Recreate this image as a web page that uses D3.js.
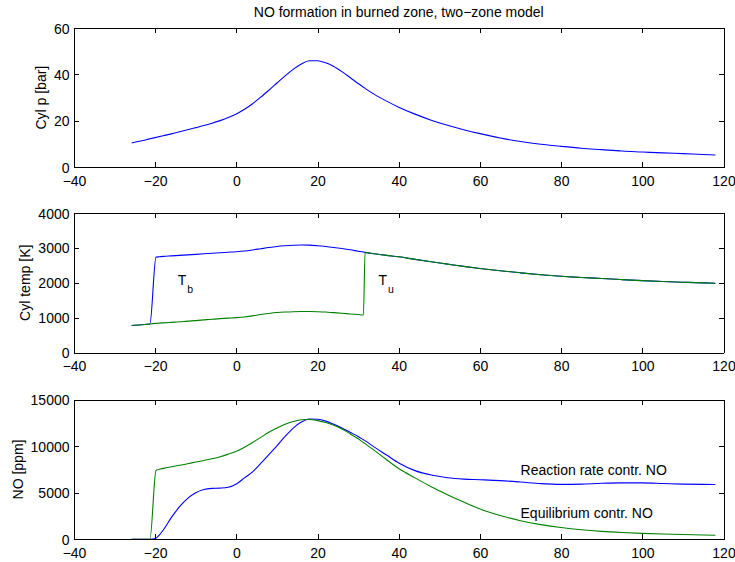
<!DOCTYPE html>
<html>
<head>
<meta charset="utf-8">
<script src="https://cdn.jsdelivr.net/npm/d3@7"></script>
<style>
  body { margin: 0; background: #fff; }
  svg { display: block; font-family: "Liberation Sans", Arial, Helvetica, sans-serif; }
</style>
</head>
<body>
<svg id="chart"></svg>
<script>
// crank angle [deg] shared by every series
const crankAngle = [-25.8, -24, -22, -21.3, -19.8, -19, -18, -16, -14, -12, -10, -8, -6, -4, -2, 0, 2, 4, 6, 8,
    10, 12, 14, 16, 18, 20, 22, 24, 26, 28, 30, 31.3, 31.7, 34, 37, 40, 44, 48, 52, 56,
    60, 65, 70, 75, 80, 85, 90, 95, 100, 105, 110, 115, 118];

const cylPressure = [10.5, 11.2, 12.0, 12.3, 12.9, 13.2, 13.6, 14.4, 15.3, 16.2, 17.1, 18.0, 19.0, 20.1, 21.4, 23.0, 25.0, 27.4, 30.2, 33.2,
    36.3, 39.4, 42.2, 44.5, 45.9, 45.9, 45.0, 43.4, 41.2, 38.7, 36.1, 34.5, 34.0, 31.4, 28.5, 25.9, 22.9, 20.3, 18.1, 16.2,
    14.5, 12.6, 11.1, 9.9, 9.0, 8.2, 7.6, 7.0, 6.6, 6.2, 5.9, 5.5, 5.3];

const tempBurned = [775, 790, 808, 818, 2735, 2745, 2755, 2770, 2785, 2800, 2815, 2830, 2845, 2860, 2875, 2890, 2910, 2940, 2975, 3010,
    3040, 3060, 3075, 3082, 3078, 3062, 3040, 3012, 2980, 2945, 2905, 2880, 2870, 2830, 2785, 2745, 2670, 2600, 2535, 2470,
    2410, 2345, 2285, 2230, 2185, 2150, 2120, 2090, 2060, 2035, 2015, 1995, 1985];

const tempUnburned = [775, 790, 808, 818, 835, 842, 850, 865, 880, 900, 915, 935, 955, 970, 985, 1000, 1020, 1050, 1090, 1120,
    1145, 1160, 1170, 1175, 1175, 1170, 1160, 1142, 1125, 1105, 1088, 1076, 2870, 2830, 2785, 2745, 2670, 2600, 2535, 2470,
    2410, 2345, 2285, 2230, 2185, 2150, 2120, 2090, 2060, 2035, 2015, 1995, 1985];

const noRateControlled = [0, 0, 0, 0, 120, 450, 1000, 2350, 3500, 4400, 5000, 5350, 5470, 5500, 5600, 5950, 6600, 7250, 8150, 9100,
    10050, 11050, 11950, 12600, 12930, 12900, 12700, 12350, 11950, 11500, 11050, 10700, 10600, 9900, 9050, 8200, 7380, 6900, 6620, 6470,
    6400, 6300, 6150, 5980, 5900, 5930, 6020, 6060, 6060, 6000, 5930, 5900, 5890];

const noEquilibrium = [0, 0, 0, 0, 7400, 7520, 7620, 7800, 7950, 8120, 8300, 8470, 8650, 8880, 9150, 9450, 9900, 10400, 10950, 11500,
    11950, 12350, 12650, 12850, 12880, 12750, 12550, 12250, 11850, 11350, 10800, 10400, 10280, 9550, 8550, 7600, 6600, 5650, 4800, 4000,
    3250, 2550, 2000, 1580, 1260, 1020, 850, 730, 640, 575, 515, 465, 440];

const xTicks = [-40, -20, 0, 20, 40, 60, 80, 100, 120];
const pressureTicks = [0, 20, 40, 60];
const tempTicks = [0, 1000, 2000, 3000, 4000];
const noTicks = [0, 5000, 10000, 15000];

const chartTitle = "NO formation in burned zone, two\u2212zone model";

const config = {
    width: 735,
    height: 562,
    plotLeft: 74,
    plotRight: 723.5,
    fontSize: 14,
    tickLen: 5,
};

const panels = [
    {
        top: 28, bottom: 167.3, yDomain: [0, 60], yTicks: pressureTicks, yLabel: "Cyl p [bar]",
        series: [{values: cylPressure, color: "#0000ff"}],
        notes: []
    },
    {
        top: 213, bottom: 352.5, yDomain: [0, 4000], yTicks: tempTicks, yLabel: "Cyl temp [K]",
        series: [{values: tempBurned, color: "#0000ff"}, {values: tempUnburned, color: "#008000"}],
        notes: [{x: -14.45, y: 1940, text: "T", sub: "b"}, {x: 35, y: 1940, text: "T", sub: "u"}]
    },
    {
        top: 399.7, bottom: 539.3, yDomain: [0, 15000], yTicks: noTicks, yLabel: "NO [ppm]",
        series: [{values: noRateControlled, color: "#0000ff"}, {values: noEquilibrium, color: "#008000"}],
        notes: [{x: 70, y: 6900, text: "Reaction rate contr. NO"}, {x: 70, y: 2330, text: "Equilibrium contr. NO"}]
    }
];

const svg = d3.select("#chart")
    .attr("width", config.width)
    .attr("height", config.height);

svg.append("rect")
    .attr("width", config.width)
    .attr("height", config.height)
    .attr("fill", "#fff");

const xScale = d3.scaleLinear()
    .domain([-40, 120])
    .range([config.plotLeft, config.plotRight]);

// title above first panel
svg.append("text")
    .attr("x", (config.plotLeft + config.plotRight) / 2)
    .attr("y", 17)
    .attr("text-anchor", "middle")
    .attr("font-size", config.fontSize)
    .attr("fill", "#000")
    .text(chartTitle);

panels.forEach(p => drawPanel(p));

function drawPanel(p) {
    const yScale = d3.scaleLinear().domain(p.yDomain).range([p.bottom, p.top]);
    const g = svg.append("g");

    // lines first, box and ticks over them
    const line = d3.line()
        .x((d, i) => xScale(crankAngle[i]))
        .y(d => yScale(d))
        .curve(d3.curveMonotoneX);

    p.series.forEach(s => {
        g.append("path")
            .datum(s.values)
            .attr("fill", "none")
            .attr("stroke", s.color)
            .attr("stroke-width", 1.1)
            .attr("stroke-linejoin", "round")
            .attr("d", line);
    });

    const xAxisB = d3.axisBottom(xScale).tickValues(xTicks).tickSizeInner(-config.tickLen).tickSizeOuter(0).tickPadding(9);
    const xAxisT = d3.axisTop(xScale).tickValues(xTicks).tickSizeInner(-config.tickLen).tickSizeOuter(0).tickFormat("");
    const yAxisL = d3.axisLeft(yScale).tickValues(p.yTicks).tickSizeInner(-config.tickLen).tickSizeOuter(0).tickPadding(4.5).tickFormat(d3.format("d"));
    const yAxisR = d3.axisRight(yScale).tickValues(p.yTicks).tickSizeInner(-config.tickLen).tickSizeOuter(0).tickFormat("");

    const bottomG = g.append("g").attr("transform", `translate(0,${p.bottom})`).call(xAxisB);
    g.append("g").attr("transform", `translate(0,${p.top})`).call(xAxisT);
    const leftG = g.append("g").attr("transform", `translate(${config.plotLeft},0)`).call(yAxisL);
    g.append("g").attr("transform", `translate(${config.plotRight},0)`).call(yAxisR);

    g.selectAll(".domain, .tick line")
        .attr("stroke", "#000")
        .attr("stroke-width", 1)
        .attr("shape-rendering", "crispEdges");
    g.selectAll(".tick text")
        .attr("font-size", config.fontSize)
        .attr("font-family", "inherit")
        .attr("fill", "#000");
    // MATLAB style minus sign
    bottomG.selectAll(".tick text").text(d => d < 0 ? "\u2212" + Math.abs(d) : d);
    leftG.selectAll(".tick text").attr("dy", "0.36em");

    // y label sits left of the widest tick label
    let maxW = 0;
    leftG.selectAll(".tick text").each(function () {
        maxW = Math.max(maxW, this.getComputedTextLength());
    });
    const labelX = config.plotLeft - 4.5 - maxW - 8;
    g.append("text")
        .attr("transform", `translate(${labelX},${(p.top + p.bottom) / 2}) rotate(-90)`)
        .attr("text-anchor", "middle")
        .attr("font-size", config.fontSize)
        .attr("fill", "#000")
        .text(p.yLabel);

    p.notes.forEach(n => {
        const t = g.append("text")
            .attr("x", xScale(n.x))
            .attr("y", yScale(n.y))
            .attr("font-size", config.fontSize)
            .attr("fill", "#000")
            .text(n.text);
        if (n.sub) {
            t.append("tspan")
                .attr("dx", 1)
                .attr("dy", 8)
                .attr("font-size", 10.5)
                .text(n.sub);
        }
    });
}
</script>
</body>
</html>
